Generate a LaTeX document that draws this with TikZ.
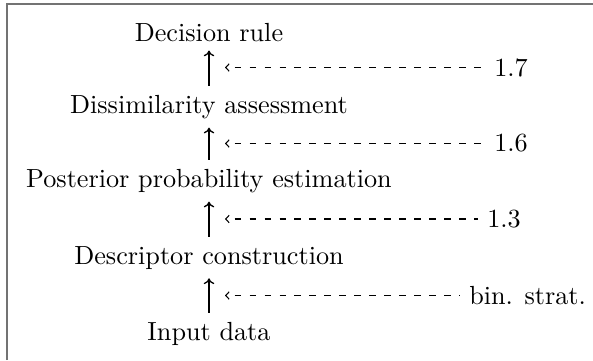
\documentclass[tikz,border=0pt]{standalone}
\usetikzlibrary{arrows.meta}
\begin{document}
\begin{tikzpicture}[x=0.3817pt,y=-0.3817pt,
  stage/.style={anchor=base, inner sep=0.3333em},
  lbl/.style={anchor=west, inner sep=0.3333em},
  flow/.style={-{To[length=2.2pt,width=4pt]}, line width=0.5pt},
  hint/.style={{Straight Barb[length=1.3pt,width=2.8pt]}-, dash pattern=on 2.55pt off 3.17pt, dash phase=2.55pt, line width=0.4pt},
  frame/.style={draw=black!55, line width=0.6pt}]
\useasboundingbox (0,0) rectangle (593,360);
\draw[frame] (7,360) -- (7,4) -- (593,4);
% stages
\node[stage] (dec) at (209,41) {Decision rule};
\node[stage] (dis) at (209,113) {Dissimilarity assessment};
\node[stage] (pos) at (209,187) {Posterior probability estimation};
\node[stage] (des) at (209,264) {Descriptor construction};
\node[stage] (inp) at (209,340) {Input data};
% flow arrows
\draw[flow] (dis.north) -- (dec.south);
\draw[flow] (pos.north) -- (dis.south);
\draw[flow] (des.north) -- (pos.south);
\draw[flow] (inp.north) -- (des.south);
% hint targets
\coordinate (h1) at (225,67.5);
\coordinate (h2) at (225,143.5);
\coordinate (h3) at (225,219);
\coordinate (h4) at (225,295.5);
% labels
\node[lbl] (l1) at (485,67.5) {1.7};
\node[lbl] (l2) at (485,143.5) {1.6};
\node[lbl] (l3) at (478,219) {1.3};
\node[lbl] (l4) at (460,295.5) {bin. strat.};
\draw[hint] (h1) -- (l1.west);
\draw[hint] (h2) -- (l2.west);
\draw[hint] (h3) -- (l3.west);
\draw[hint] (h4) -- (l4.west);
\end{tikzpicture}
\end{document}
